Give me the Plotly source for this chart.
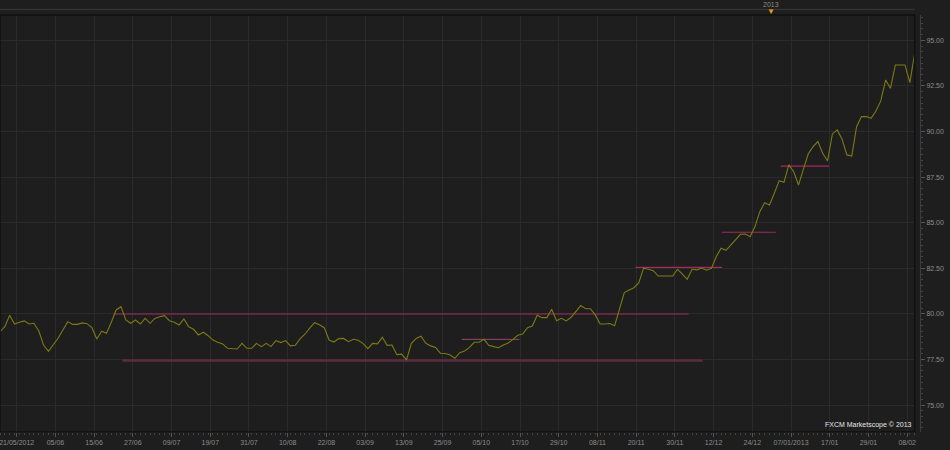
import plotly.graph_objects as go

# daily closes, one per bar
close = [
    79.03, 79.30, 79.93, 79.45, 79.55, 79.62, 79.45, 79.49, 79.08, 78.30,
    77.95, 78.30, 78.67, 79.12, 79.58, 79.43, 79.43, 79.51, 79.47, 79.25,
    78.63, 79.05, 78.94, 79.55, 80.22, 80.40, 79.67, 79.49, 79.67, 79.45,
    79.76, 79.49, 79.76, 79.85, 79.91, 79.63, 79.55, 79.40, 79.73, 79.30,
    79.16, 78.85, 79.00, 78.81, 78.57, 78.45, 78.36, 78.12, 78.12, 78.08,
    78.39, 78.12, 78.12, 78.39, 78.21, 78.39, 78.21, 78.54, 78.43, 78.54,
    78.25, 78.28, 78.63, 78.89, 79.22, 79.52, 79.41, 79.25, 78.57, 78.46,
    78.65, 78.66, 78.48, 78.61, 78.56, 78.39, 78.10, 78.39, 78.36, 78.72,
    78.28, 78.30, 77.77, 77.80, 77.48, 78.39, 78.66, 78.78, 78.39, 78.25,
    78.17, 77.85, 77.83, 77.75, 77.57, 77.88, 77.97, 78.17, 78.45, 78.45,
    78.61, 78.28, 78.21, 78.15, 78.30, 78.41, 78.61, 78.83, 78.90, 79.25,
    79.34, 79.93, 79.80, 79.80, 80.26, 79.63, 79.76, 79.62, 79.82, 80.13,
    80.46, 80.29, 80.29, 79.95, 79.45, 79.45, 79.48, 79.36, 80.31, 81.17,
    81.32, 81.44, 81.72, 82.51, 82.45, 82.37, 82.08, 82.10, 82.08, 82.08,
    82.45, 82.19, 81.90, 82.45, 82.42, 82.52, 82.40, 82.50, 83.14, 83.60,
    83.49, 83.78, 84.09, 84.37, 84.38, 84.24, 84.79, 85.61, 86.10, 85.98,
    86.62, 87.31, 87.22, 88.17, 87.80, 87.07, 87.93, 88.77, 89.17, 89.45,
    88.81, 88.39, 89.87, 90.09, 89.58, 88.72, 88.66, 90.27, 90.82, 90.82,
    90.73, 91.13, 91.68, 92.83, 92.37, 93.65, 93.65, 93.65, 92.68, 94.29,
]
bars = list(range(len(close)))

# date labels, one every 8 bars
date_labels = ["21/05/2012", "05/06", "15/06", "27/06", "09/07", "19/07", "31/07", "10/08",
               "22/08", "03/09", "13/09", "25/09", "05/10", "17/10", "29/10", "08/11",
               "20/11", "30/11", "12/12", "24/12", "07/01/2013", "17/01", "29/01", "08/02"]
date_bars = [3.45 + 8 * k for k in range(len(date_labels))]
year_bar = 159.3  # 01/01/2013

# horizontal support / resistance levels
level_values = [80.0, 77.45, 78.61, 82.55, 84.48, 88.10]
level_start = [23.4, 25.3, 95.4, 131.3, 149.2, 161.3]
level_end = [142.3, 145.2, 107.3, 149.2, 160.3, 171.3]
level_colors = ["#a3295f", "#5e2b42", "#94466a", "#a3295f", "#a3295f", "#a3295f"]
level_widths = [1.2, 2.5, 1, 1.2, 1.2, 1.2]

yticks = [75, 77.5, 80, 82.5, 85, 87.5, 90, 92.5, 95]

fig = go.Figure()

for v, s, e, c, w in zip(level_values, level_start, level_end, level_colors, level_widths):
    fig.add_trace(go.Scatter(x=[s, e], y=[v, v], mode="lines",
                             line=dict(color=c, width=w), hoverinfo="skip"))

fig.add_trace(go.Scatter(x=bars, y=close, mode="lines",
                         line=dict(color="#7c7a12", width=1.1)))

fig.update_layout(
    width=950, height=450,
    showlegend=False,
    paper_bgcolor="#1e1e1e",
    plot_bgcolor="#1e1e1e",
    margin=dict(l=0, r=30, t=15, b=18, autoexpand=False),
    font=dict(family="Liberation Sans", size=7, color="#8c8c8c"),
    shapes=[
        dict(type="line", xref="paper", yref="paper", x0=0, x1=0.9942, y0=1.0135, y1=1.0135,
             line=dict(color="#3a3a3a", width=1)),
        dict(type="rect", xref="paper", yref="paper", x0=0, x1=0.9942, y0=0, y1=1,
             line=dict(color="#101010", width=1.5)),
    ],
    annotations=[
        dict(x=year_bar, y=1.025, xref="x", yref="paper", text="2013", showarrow=False,
             font=dict(size=7, color="#8c8c8c"), yanchor="middle"),
        dict(x=year_bar, y=1.008, xref="x", yref="paper", text="▼", showarrow=False,
             font=dict(size=8, color="#e0a010"), yanchor="middle"),
        dict(x=0.9935, y=0.002, xref="paper", yref="paper", text="FXCM Marketscope © 2013",
             showarrow=False, xanchor="right", yanchor="bottom",
             font=dict(size=7, color="#e6e6e6")),
    ],
)

fig.update_xaxes(
    range=[0, len(close) - 1],
    domain=[0, 0.9942],
    tickvals=date_bars, ticktext=date_labels,
    ticklabeloverflow="allow",
    showgrid=True, gridcolor="#2b2b2b", gridwidth=1,
    zeroline=False,
    showline=True, linecolor="#3c3c3c",
    ticks="outside", ticklen=4, tickcolor="#555555",
    minor=dict(dtick=1, tick0=0, ticks="outside", ticklen=2, tickcolor="#444444", showgrid=False),
    tickfont=dict(size=7, color="#8c8c8c"),
)
fig.update_yaxes(
    range=[73.53, 96.39],
    side="right", anchor="free", position=1.0,
    tickvals=yticks, ticktext=["%.2f" % v for v in yticks],
    ticklabeloverflow="allow",
    showgrid=True, gridcolor="#2b2b2b", gridwidth=1,
    zeroline=False,
    showline=True, linecolor="#3c3c3c",
    ticks="outside", ticklen=4, tickcolor="#555555",
    minor=dict(dtick=0.3125, tick0=0, ticks="outside", ticklen=2, tickcolor="#444444", showgrid=False),
    tickfont=dict(size=7, color="#8c8c8c"),
)

# drop the browser's default 8px page margin so the figure sits flush in the window
fig.write_html("out.html", config={"displayModeBar": False},
               post_script="document.body.style.margin='0';")
